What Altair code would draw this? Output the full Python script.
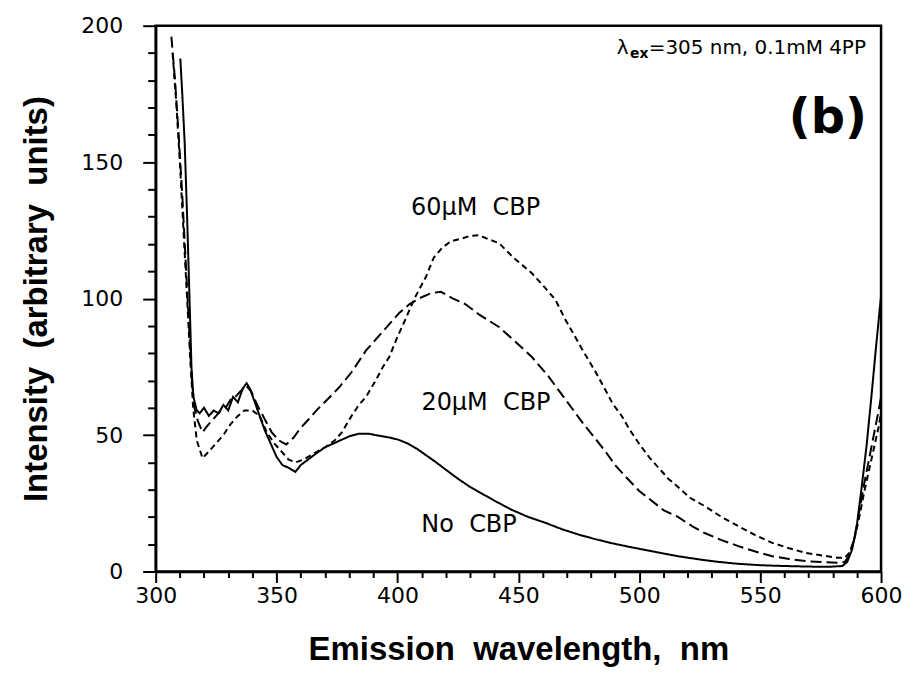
import altair as alt
import pandas as pd

# ---- data ----
wl_none = [310.2, 311, 312, 313, 314, 314.8, 315.6, 317, 318.2, 320, 322, 324, 326, 328, 330, 332, 334, 336,
           337.6, 339, 341, 343, 345, 348, 350, 352.4, 355, 357.8, 360, 363, 366, 370, 375, 380, 384, 388,
           392, 396, 400, 404, 408, 412, 416, 420, 425, 430, 435, 440, 447, 454, 461, 468, 475, 482, 489, 496,
           503, 510, 516, 525, 533, 541, 550, 560, 570, 578, 584, 586, 588, 590, 592, 594, 596, 598, 600]
int_none = [188, 175, 157, 130, 100, 75, 64, 59, 58, 60, 57, 59, 58, 61, 59, 64, 62, 67,
            69, 67, 62, 57, 52, 46, 42, 39, 38, 36.5, 39, 41, 43, 45.5, 47.5, 49.5, 50.5, 50.5,
            49.8, 49.2, 48.4, 47, 45, 42.5, 40, 37.3, 34, 31, 28.5, 26, 22.7, 20, 17.9, 15.5, 13.5, 11.8, 10.3, 9,
            7.8, 6.6, 5.6, 4.4, 3.5, 2.8, 2.3, 2, 1.8, 1.7, 2, 3.5, 8, 17, 31, 46, 64, 83, 101]

wl_20 = [306.5, 308, 309.5, 311, 312.5, 313.8, 314.8, 316, 317.5, 319.4, 321, 323, 325, 327, 329, 331, 333,
         335, 337.5, 339.5, 342, 345, 348, 351, 354, 357, 359.4, 363, 367, 371, 376, 381, 387, 391, 395,
         400.7, 405, 410, 414, 418, 423, 428, 434, 442, 449, 455.6, 462, 467, 472, 477, 482, 486, 490,
         494.3, 500, 505, 510, 516, 522, 527, 534, 541, 548, 555, 562, 569, 576, 582, 585, 587, 589, 591,
         593, 595, 597, 599, 600]
int_20 = [196, 180, 160, 138, 112, 90, 72, 60, 55, 51, 53, 55, 57, 59, 60, 63, 64,
          66, 68, 66, 61, 56, 51, 48, 46.5, 49, 52, 55.5, 59.5, 63, 67.6, 73, 81, 85, 89,
          94.7, 98, 100.5, 102, 102.5, 100, 98, 94, 89.6, 84, 78.6, 72, 66, 60, 54, 48.5, 44, 39,
          34.8, 29.5, 26, 22.5, 20, 16.5, 14.1, 11.5, 9.3, 7.3, 5.6, 4.6, 3.8, 3.4, 3.2, 3.5, 6, 12, 22,
          32, 41, 50, 59, 64]

wl_60 = [307, 308.5, 310, 311.5, 313, 314.3, 315.5, 317, 319.4, 322, 325, 328, 331, 334, 336.7, 340, 343,
         346, 349, 352, 355, 358, 361, 365, 370, 374, 377, 381, 384, 387, 391, 394, 396.6, 400, 403.6, 407,
         411.8, 415, 418.4, 422, 426.7, 430, 433.7, 437, 442, 448, 455.6, 461, 465.4, 469, 472.2, 476, 479,
         482, 486, 489, 492.9, 496, 499.8, 504, 508, 512, 516, 521, 527, 534, 541, 548, 555, 562, 569, 576,
         582, 585, 587, 589, 591, 593, 595, 597, 599, 600]
int_60 = [190, 172, 150, 125, 100, 78, 60, 48, 41.5, 44, 47, 50, 54, 57, 59, 59, 57,
          51, 47, 44, 41, 40, 41, 43, 45.5, 48, 51, 57, 61, 64, 70, 75, 78.6, 86, 93, 100,
          108, 115, 118.5, 121, 122, 123, 123.2, 122, 120.3, 115, 109.3, 104, 99.5, 93, 88, 82, 77.5,
          73, 66.5, 61.5, 56.8, 52, 47, 42, 38, 34, 31, 27, 24, 20, 16.6, 13.3, 10.5, 8.5, 6.8, 5.8,
          5, 5, 7, 12, 20, 29, 37, 45, 53, 58]

series_names = ["No CBP", "20µM CBP", "60µM CBP"]
series_dash = [[1, 0], [11, 5], [6, 4]]

# curve labels
label_text = ["60\u00b5M\u00a0\u00a0CBP", "20\u00b5M\u00a0\u00a0CBP", "No\u00a0\u00a0CBP"]
label_x = [432.3, 436.6, 429.6]
label_y = [130.5, 59.2, 14.3]

# tick values
x_ticks = list(range(300, 601, 10))
y_ticks = list(range(0, 201, 10))

rows = []
for name, wl, iv in [(series_names[0], wl_none, int_none),
                     (series_names[1], wl_20, int_20),
                     (series_names[2], wl_60, int_60)]:
    for w, v in zip(wl, iv):
        rows.append({"wl": w, "I": v, "series": name})
df = pd.DataFrame(rows)

lab_df = pd.DataFrame({"text": label_text, "x": label_x, "y": label_y})

SANS = "DejaVu Sans, Verdana, sans-serif"
TITLE_FONT = "Liberation Sans, Arial, Helvetica, sans-serif"

x_axis = alt.Axis(
    values=x_ticks,
    labelExpr="datum.value % 50 === 0 ? datum.label : ''",
    ticks=True,
    tickSize={"condition": {"test": "datum.value % 50 === 0", "value": 11}, "value": 6},
    tickWidth=2, tickColor="black",
    domainWidth=2.5, domainColor="black",
    labelFont=SANS, labelFontSize=22, labelColor="black", labelPadding=3,
    labelFlush=False, labelOverlap=False, grid=False,
    title="Emission\u00a0\u00a0wavelength,\u00a0\u00a0nm",
    titleFont=TITLE_FONT, titleFontSize=33, titleFontWeight="bold", titleColor="black",
    titleX=363.5, titleY=78, titleBaseline="middle", titleAlign="center",
)
y_axis = alt.Axis(
    values=y_ticks,
    labelExpr="datum.value % 50 === 0 ? datum.label : ''",
    ticks=True,
    tickSize={"condition": {"test": "datum.value % 50 === 0", "value": 13}, "value": 8},
    tickWidth=2, tickColor="black",
    domainWidth=2.5, domainColor="black",
    labelFont=SANS, labelFontSize=22, labelColor="black", labelPadding=20,
    labelFlush=False, labelOverlap=False, grid=False,
    title="Intensity\u00a0\u00a0(arbitrary\u00a0\u00a0units)",
    titleFont=TITLE_FONT, titleFontSize=33, titleFontWeight="bold", titleColor="black",
    titleX=-119, titleY=273.5, titleBaseline="middle", titleAlign="center", titleAngle=-90,
)

xs = alt.Scale(domain=[300, 600], nice=False, zero=False)
ys = alt.Scale(domain=[0, 200], nice=False)

lines = alt.Chart(df).mark_line(color="black", strokeWidth=2, clip=True).encode(
    x=alt.X("wl:Q", scale=xs, axis=x_axis),
    y=alt.Y("I:Q", scale=ys, axis=y_axis),
    strokeDash=alt.StrokeDash("series:N",
                              scale=alt.Scale(domain=series_names, range=series_dash),
                              legend=None),
    detail="series:N",
)

labels = alt.Chart(lab_df).mark_text(font=SANS, fontSize=24, color="black",
                                     align="center", baseline="alphabetic").encode(
    x=alt.X("x:Q", scale=xs, axis=x_axis), y=alt.Y("y:Q", scale=ys, axis=y_axis), text="text:N")

hdr_df = pd.DataFrame({"text": ["\u03bb", "=305 nm, 0.1mM 4PP"],
                       "x": [490.7, 503.9], "y": [189.8, 189.8]})
header = alt.Chart(hdr_df).mark_text(font=SANS, fontSize=20, color="black",
                                     align="left", baseline="alphabetic").encode(
    x=alt.X("x:Q", scale=xs, axis=x_axis), y=alt.Y("y:Q", scale=ys, axis=y_axis), text="text:N")

sub_df = pd.DataFrame({"text": ["ex"], "x": [496.2], "y": [188.0]})
sub = alt.Chart(sub_df).mark_text(font=SANS, fontSize=14, fontWeight="bold", color="black",
                                  align="left", baseline="alphabetic").encode(
    x=alt.X("x:Q", scale=xs, axis=x_axis), y=alt.Y("y:Q", scale=ys, axis=y_axis), text="text:N")

panel_df = pd.DataFrame({"text": ["(b)"], "x": [578.0], "y": [160.5]})
panel = alt.Chart(panel_df).mark_text(font=SANS, fontSize=48, fontWeight="bold", color="black",
                                      align="center", baseline="alphabetic").encode(
    x=alt.X("x:Q", scale=xs, axis=x_axis), y=alt.Y("y:Q", scale=ys, axis=y_axis), text="text:N")

chart = alt.layer(lines, labels, header, sub, panel).properties(
    width=727, height=547,
    padding={"left": 148, "top": 17, "right": 25, "bottom": 100},
    autosize="none",
    background="white",
).configure_view(stroke="black", strokeWidth=2.5)

chart.save("out.html", embed_options={"renderer": "svg", "actions": False})
